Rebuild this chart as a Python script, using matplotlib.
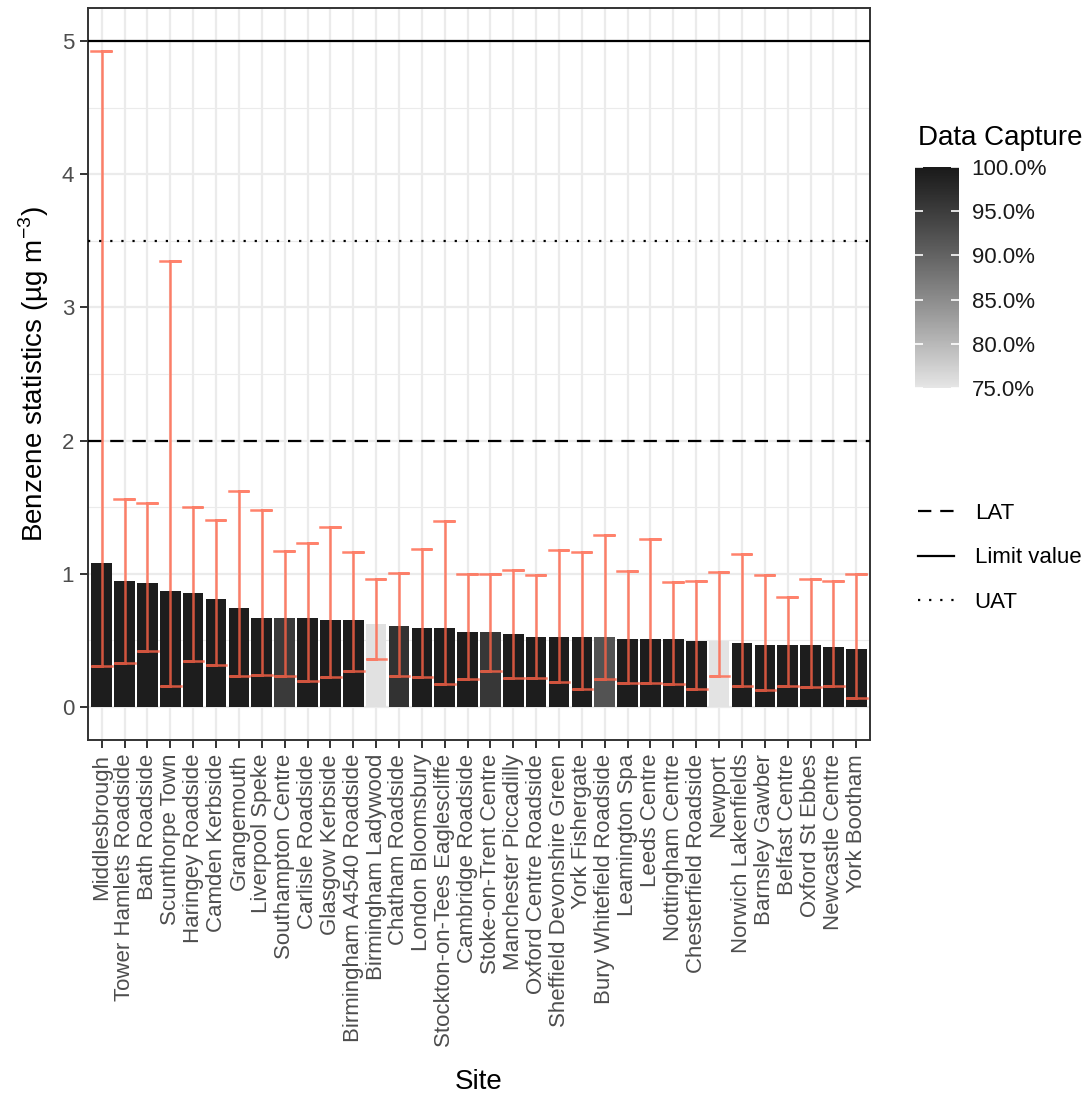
import numpy as np
import matplotlib
matplotlib.use("Agg")
import matplotlib.pyplot as plt
from matplotlib.colors import ListedColormap, Normalize
from matplotlib.cm import ScalarMappable
from matplotlib.lines import Line2D

plt.rcParams['font.family'] = ['Liberation Sans', 'DejaVu Sans']
plt.rcParams['mathtext.fontset'] = 'custom'
plt.rcParams['mathtext.rm'] = 'Liberation Sans'

# data
sites = ["Middlesbrough", "Tower Hamlets Roadside", "Bath Roadside", "Scunthorpe Town",
         "Haringey Roadside", "Camden Kerbside", "Grangemouth", "Liverpool Speke",
         "Southampton Centre", "Carlisle Roadside", "Glasgow Kerbside",
         "Birmingham A4540 Roadside", "Birmingham Ladywood", "Chatham Roadside",
         "London Bloomsbury", "Stockton-on-Tees Eaglescliffe", "Cambridge Roadside",
         "Stoke-on-Trent Centre", "Manchester Piccadilly", "Oxford Centre Roadside",
         "Sheffield Devonshire Green", "York Fishergate", "Bury Whitefield Roadside",
         "Leamington Spa", "Leeds Centre", "Nottingham Centre", "Chesterfield Roadside",
         "Newport", "Norwich Lakenfields", "Barnsley Gawber", "Belfast Centre",
         "Oxford St Ebbes", "Newcastle Centre", "York Bootham"]

mean_val = [1.078, 0.945, 0.930, 0.872, 0.857, 0.812, 0.739, 0.667, 0.667, 0.667,
            0.652, 0.652, 0.622, 0.609, 0.594, 0.594, 0.564, 0.564, 0.549, 0.521,
            0.521, 0.521, 0.521, 0.506, 0.506, 0.506, 0.491, 0.491, 0.476, 0.461,
            0.461, 0.461, 0.446, 0.431]

low_val = [0.303, 0.326, 0.416, 0.158, 0.346, 0.311, 0.228, 0.241, 0.228, 0.193,
           0.226, 0.268, 0.358, 0.233, 0.221, 0.170, 0.208, 0.266, 0.216, 0.216,
           0.185, 0.133, 0.208, 0.175, 0.175, 0.170, 0.133, 0.233, 0.158, 0.125,
           0.158, 0.150, 0.158, 0.065]

high_val = [4.93, 1.56, 1.53, 3.35, 1.50, 1.40, 1.62, 1.48, 1.17, 1.23,
            1.35, 1.16, 0.957, 1.007, 1.185, 1.398, 0.997, 0.997, 1.028, 0.987,
            1.178, 1.165, 1.291, 1.017, 1.258, 0.940, 0.947, 1.010, 1.148, 0.987,
            0.827, 0.957, 0.947, 0.997]

capture = [99.5, 99.5, 99.5, 99.5, 99.5, 99.5, 99.5, 99.5, 95.3, 99.5,
           99.5, 99.5, 75.5, 96.3, 99.5, 99.5, 99.5, 95.8, 99.5, 99.5,
           99.5, 99.5, 92.0, 99.5, 99.5, 99.5, 99.5, 75.3, 99.5, 99.5,
           99.5, 99.5, 99.5, 99.5]

thresholds = [2.0, 5.0, 3.5]
threshold_names = ["LAT", "Limit value", "UAT"]
threshold_styles = [(0, (6, 4)), "-", (0, (1, 4))]


# grey ramp interpolated in L* like ggplot's gradient
def srgb_to_L(v):
    lin = np.where(v > 0.04045, ((v + 0.055) / 1.055) ** 2.4, v / 12.92)
    f = np.where(lin > 0.008856, np.cbrt(lin), 7.787 * lin + 16 / 116)
    return 116 * f - 16


def L_to_srgb(L):
    f = (L + 16) / 116
    lin = np.where(f ** 3 > 0.008856, f ** 3, (f - 16 / 116) / 7.787)
    return np.where(lin > 0.0031308, 1.055 * lin ** (1 / 2.4) - 0.055, 12.92 * lin)


L_lo, L_hi = srgb_to_L(np.array(0.90)), srgb_to_L(np.array(0.10))
g = L_to_srgb(np.linspace(L_lo, L_hi, 256))
cmap = ListedColormap(np.column_stack([g, g, g]))
norm = Normalize(75, 100)

fig = plt.figure(figsize=(10.89, 10.97), dpi=100)
ax = fig.add_axes([88 / 1089, 1 - 740 / 1097, 782 / 1089, 732 / 1097])

x = np.arange(len(sites))
ax.bar(x, mean_val, width=0.9, color=cmap(norm(capture)), zorder=2)

for xi, lo, hi in zip(x, low_val, high_val):
    ax.plot([xi - 0.45, xi + 0.45, xi, xi, xi - 0.45, xi + 0.45],
            [hi, hi, hi, lo, lo, lo], color="tomato", alpha=0.8, lw=1.8,
            solid_joinstyle="miter", zorder=4)

for yv, ls in zip(thresholds, threshold_styles):
    ax.axhline(yv, color="black", lw=1.6, linestyle=ls, zorder=5)

ax.set_xlim(-0.6, len(sites) - 0.4)
ax.set_ylim(-0.25, 5.25)
ax.set_xticks(x)
ax.set_xticklabels(sites, rotation=90, fontsize=16, color="#4d4d4d")
ax.set_yticks(range(6))
ax.set_yticks(np.arange(0.5, 5.5, 1), minor=True)
ax.tick_params(axis="both", which="major", labelsize=16, labelcolor="#4d4d4d",
               color="#333333", width=1.4, length=6, pad=4)
ax.tick_params(axis="y", which="minor", length=0)
ax.grid(True, which="major", color="#ebebeb", lw=1.6, zorder=0)
ax.grid(True, which="minor", axis="y", color="#ebebeb", lw=0.8, zorder=0)
ax.set_axisbelow(True)
for sp in ax.spines.values():
    sp.set_color("#333333")
    sp.set_linewidth(1.4)

ax.set_xlabel("Site", fontsize=20, labelpad=16)
ax.set_ylabel("Benzene statistics (µg m$^{-3}$)", fontsize=20, labelpad=8)

# colour bar legend
cax = fig.add_axes([915 / 1089, 1 - 388 / 1097, 44 / 1089, 221 / 1097])
cb = fig.colorbar(ScalarMappable(norm=norm, cmap=cmap), cax=cax)
cb.outline.set_visible(False)
cb.set_ticks([75, 80, 85, 90, 95, 100])
cb.set_ticklabels(["%.1f%%" % t for t in [75, 80, 85, 90, 95, 100]])
cax.tick_params(which="both", direction="in", color="white", width=1.2, length=6,
                left=True, right=True, labelsize=16, labelcolor="#1a1a1a", pad=9)
cax.minorticks_off()
fig.text(918 / 1089, 1 - 138 / 1097, "Data Capture", fontsize=20, va="center", ha="left")

# linetype legend
handles = [Line2D([], [], color="black", lw=1.6, linestyle=ls) for ls in threshold_styles]
fig.legend(handles, threshold_names, loc="upper left",
           bbox_to_anchor=(918 / 1089, 1 - 503 / 1097), frameon=False,
           fontsize=16, handlelength=1.6, handletextpad=0.95, labelspacing=1.05,
           borderpad=0, borderaxespad=0)

fig.savefig("out.png", dpi=100)
